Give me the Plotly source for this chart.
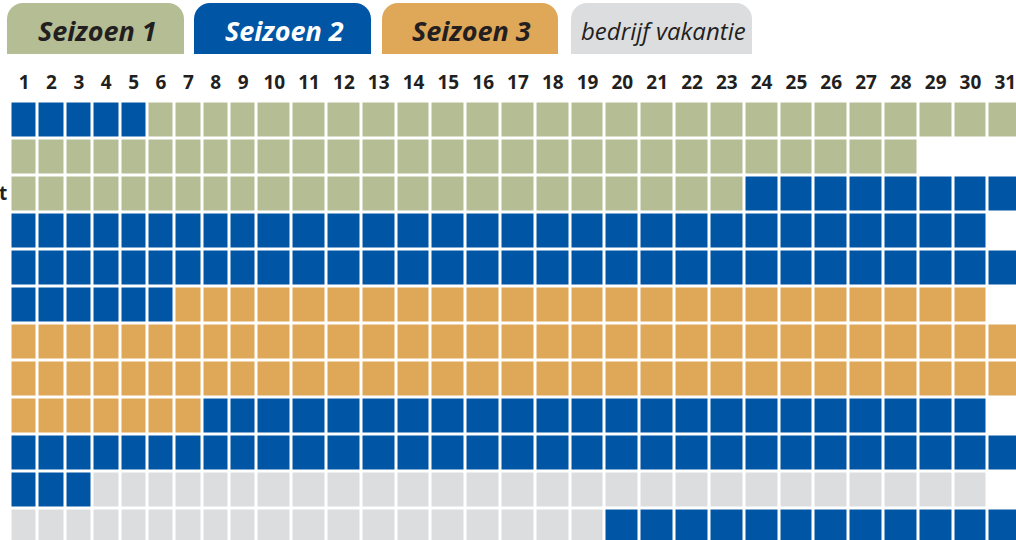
import plotly.graph_objects as go

# ---------------- data ----------------
DAYS = list(range(1, 32))
DAY_LABELS = [str(d) for d in DAYS]
MONTHS = ["Januari", "Februari", "Maart", "April", "Mei", "Juni", "Juli",
          "Augustus", "September", "Oktober", "November", "December"]
DAYS_IN_MONTH = [31, 28, 31, 30, 31, 30, 31, 31, 30, 31, 30, 31]
SEASONS = ["Seizoen 1", "Seizoen 2", "Seizoen 3", "bedrijf vakantie"]

# season runs per month: (season index, first day, last day)
JAN = [(1, 1, 5), (0, 6, 31)]
FEB = [(0, 1, 28)]
MAR = [(0, 1, 23), (1, 24, 31)]
APR = [(1, 1, 30)]
MAY = [(1, 1, 31)]
JUN = [(1, 1, 6), (2, 7, 30)]
JUL = [(2, 1, 31)]
AUG = [(2, 1, 31)]
SEP = [(2, 1, 7), (1, 8, 30)]
OCT = [(1, 1, 31)]
NOV = [(1, 1, 3), (3, 4, 30)]
DEC = [(3, 1, 19), (1, 20, 31)]
RUNS = [JAN, FEB, MAR, APR, MAY, JUN, JUL, AUG, SEP, OCT, NOV, DEC]

# ---------------- style ----------------
W, H = 1016, 540
GREEN = "#b5bd95"
BLUE = "#0055a5"
ORANGE = "#dfa758"
GRAY = "#dcdddf"
DARK = "#231f20"
SEASON_COLORS = [GREEN, BLUE, ORANGE, GRAY]
SEASON_TEXT = [DARK, "white", DARK, DARK]

NARROW = 27.375 / 34.81      # relative width of single-digit day columns
PX_PER_X = 34.81
X0_PX = 10.5
PX_PER_ROW = 37.0
ROW0_PX = 120.0
LABEL_ROW = -0.97

# build grid
z = []
for m, runs in enumerate(RUNS):
    row = [None] * 31
    for s, a, b in runs:
        for d in range(a, b + 1):
            if d <= DAYS_IN_MONTH[m]:
                row[d - 1] = s
    z.append(row)

widths = [NARROW if d < 10 else 1.0 for d in DAYS]
edges = [0.0]
for w in widths:
    edges.append(edges[-1] + w)
centers = [(edges[i] + edges[i + 1]) / 2 for i in range(31)]

n = len(SEASON_COLORS)
colorscale = []
for i, c in enumerate(SEASON_COLORS):
    colorscale.append([i / n, c])
    colorscale.append([(i + 1) / n, c])

fig = go.Figure()
fig.add_trace(go.Heatmap(
    z=z, x=edges, y=list(range(12)),
    zmin=-0.5, zmax=n - 0.5,
    colorscale=colorscale, showscale=False,
    xgap=3, ygap=3, hoverinfo="skip",
))
fig.add_trace(go.Scatter(
    x=centers, y=[LABEL_ROW] * 31, mode="text", text=DAY_LABELS,
    textfont=dict(family="Open Sans", size=19, color=DARK, weight=700),
    hoverinfo="skip", showlegend=False,
))

# legend tabs
TAB_X = [(7, 184), (194, 371), (382, 558), (571, 752)]
TAB_Y = (3, 54)
R = 16
shapes = []
annotations = []
k = 0.448
for i, (x0p, x1p) in enumerate(TAB_X):
    x0, x1 = x0p / W, x1p / W
    yt, yb = 1 - TAB_Y[0] / H, 1 - TAB_Y[1] / H
    rx, ry = R / W, R / H
    path = (f"M {x0},{yb} L {x0},{yt - ry} "
            f"C {x0},{yt - ry * k} {x0 + rx * k},{yt} {x0 + rx},{yt} "
            f"L {x1 - rx},{yt} "
            f"C {x1 - rx * k},{yt} {x1},{yt - ry * k} {x1},{yt - ry} "
            f"L {x1},{yb} Z")
    shapes.append(dict(type="path", path=path, xref="paper", yref="paper",
                       fillcolor=SEASON_COLORS[i], line=dict(width=0), layer="below"))
    is_holiday = (i == 3)
    annotations.append(dict(
        x=(x0p + x1p) / 2 / W + (1.5 / W), y=1 - 31 / H, xref="paper", yref="paper",
        text=SEASONS[i] if is_holiday else f"<b>{SEASONS[i]}</b>",
        showarrow=False, xanchor="center", yanchor="middle",
        font=dict(family="Open Sans", size=24 if is_holiday else 27,
                  color=SEASON_TEXT[i], style="italic"),
    ))

# cropped month label visible at the left edge (end of "Maart")
annotations.append(dict(
    x=0, y=1 - 193 / H, xref="paper", yref="paper", text="<b>t</b>",
    showarrow=False, xanchor="left", yanchor="middle", xshift=-3,
    font=dict(family="Open Sans", size=19, color=DARK),
))

fig.update_layout(
    width=W, height=H, margin=dict(l=0, r=0, t=0, b=0),
    paper_bgcolor="white", plot_bgcolor="white",
    xaxis=dict(visible=False, range=[-X0_PX / PX_PER_X, (W - X0_PX) / PX_PER_X], fixedrange=True),
    yaxis=dict(visible=False, range=[(H - ROW0_PX) / PX_PER_ROW, -ROW0_PX / PX_PER_ROW], fixedrange=True),
    shapes=shapes, annotations=annotations, showlegend=False,
)
fig.write_html("out.html", config={"displayModeBar": False},
               post_script="document.body.style.margin='0px';document.body.style.overflow='hidden';")
